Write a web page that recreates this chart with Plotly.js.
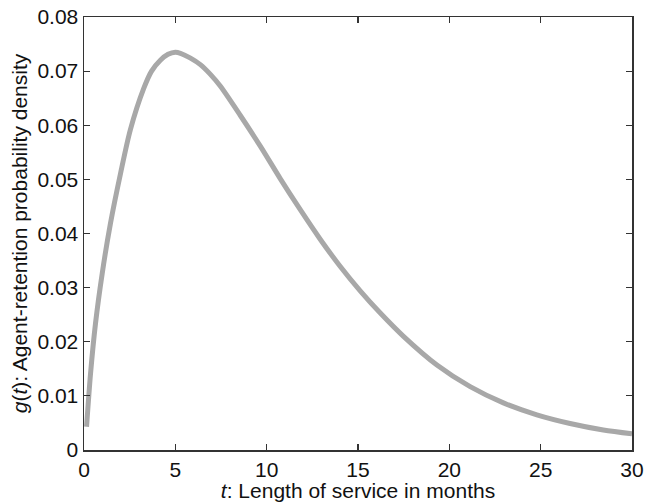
<!DOCTYPE html>
<html>
<head>
<meta charset="utf-8">
<script src="https://cdn.plot.ly/plotly-3.0.1.min.js"></script>
<style>html,body{margin:0;padding:0;background:#fff;}#chart{width:649px;height:502px;}</style>
</head>
<body>
<div id="chart"></div>
<script>
const tMonths = [0.14, 0.36, 0.63, 1.0, 1.45, 2.0, 2.54, 3.27, 3.7, 4.18, 4.6, 5.0, 5.28, 5.83, 6.37, 6.92, 7.47, 8.56, 9.66, 10.75, 11.84, 12.94, 14.03, 15.12, 16.22, 17.49, 19.32, 21.14, 22.96, 24.79, 26.61, 28.43, 30];
const density = [0.0043, 0.0142, 0.0234, 0.0327, 0.0419, 0.0511, 0.0592, 0.0668, 0.0700, 0.0720, 0.0731, 0.0735, 0.0733, 0.0724, 0.0712, 0.0694, 0.0672, 0.0618, 0.0561, 0.0501, 0.0444, 0.0389, 0.0339, 0.0294, 0.0253, 0.0210, 0.0157, 0.0117, 0.0087, 0.0065, 0.0049, 0.0037, 0.0030];
const xTicks = [0, 5, 10, 15, 20, 25, 30];
const yTicks = [0, 0.01, 0.02, 0.03, 0.04, 0.05, 0.06, 0.07, 0.08];
const yTickText = ['0', '0.01', '0.02', '0.03', '0.04', '0.05', '0.06', '0.07', '0.08'];

const font = {family: 'Liberation Sans, Arial, sans-serif', size: 21, color: '#111'};
const axisCommon = {
  showgrid: false, zeroline: false, showline: true, linecolor: '#333', linewidth: 1.5,
  mirror: 'ticks', ticks: 'inside', ticklen: 6, tickwidth: 1.2, tickcolor: '#333',
  tickfont: font
};
Plotly.newPlot('chart', [{
  x: tMonths, y: density, type: 'scatter', mode: 'lines',
  line: {color: '#a8a8a8', width: 5, shape: 'spline', smoothing: 0.8}
}], {
  width: 649, height: 502,
  margin: {l: 84, r: 17, t: 17, b: 52},
  paper_bgcolor: '#fff', plot_bgcolor: '#fff',
  showlegend: false,
  font: font,
  xaxis: Object.assign({}, axisCommon, {
    range: [0, 30], tickvals: xTicks, ticktext: xTicks.map(String),
    title: {text: '<i>t</i>: Length of service in months', font: font, standoff: 2}
  }),
  yaxis: Object.assign({}, axisCommon, {
    range: [0, 0.08], tickvals: yTicks, ticktext: yTickText,
    title: {text: '<i>g</i>(<i>t</i>): Agent-retention probability density', font: font, standoff: 4}
  })
}, {displayModeBar: false, staticPlot: true});
</script>
</body>
</html>
